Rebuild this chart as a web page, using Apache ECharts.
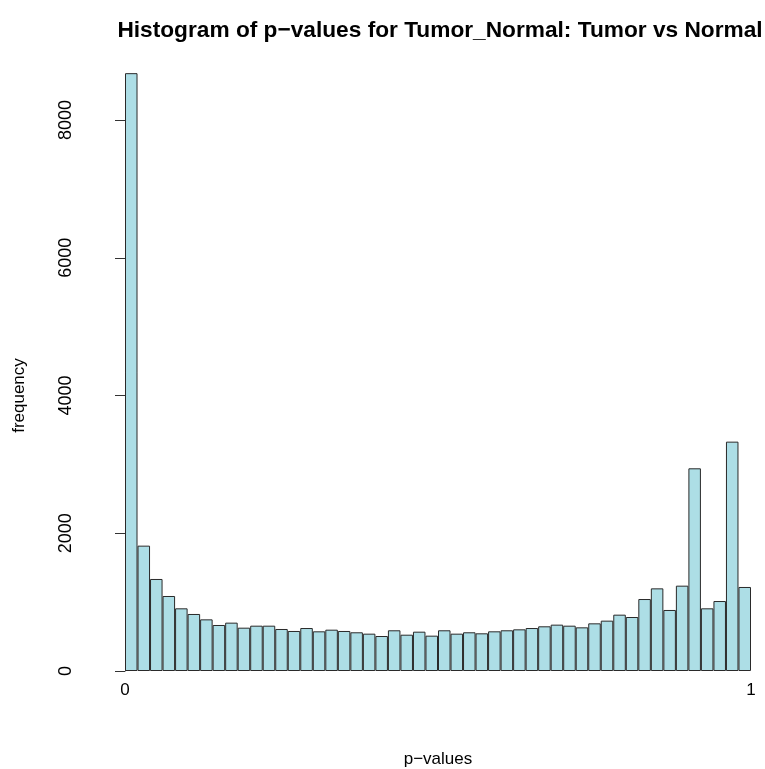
<!DOCTYPE html>
<html>
<head>
<meta charset="utf-8">
<script src="https://cdn.jsdelivr.net/npm/echarts@6/dist/echarts.min.js"></script>
<style>
  html, body { margin: 0; padding: 0; background: #fff; }
  #chart { width: 765px; height: 769px; }
</style>
</head>
<body>
<div id="chart"></div>
<script>
// bins of width 0.02 from 0 to 1
var binStarts = [];
for (var i = 0; i < 50; i++) binStarts.push((i * 0.02).toFixed(2));

var counts = [
  8680, 1820, 1336, 1089, 910, 828, 750, 668, 702, 629,
  658, 658, 610, 581, 624, 576, 600, 581, 562, 542,
  508, 591, 527, 571, 513, 591, 542, 562, 547, 576,
  591, 605, 624, 649, 673, 658, 634, 692, 731, 818,
  784, 1045, 1200, 886, 1239, 2943, 910, 1016, 3330, 1220
];

var yTicks = [0, 2000, 4000, 6000, 8000];
var xTicks = [0, 1];

var font = 'Liberation Sans, Arial, sans-serif';
var chart = echarts.init(document.getElementById('chart'));

chart.setOption({
  animation: false,
  title: {
    text: 'Histogram of p\u2212values for Tumor_Normal: Tumor vs Normal',
    left: 435,
    top: 14,
    textAlign: 'center',
    textStyle: { fontFamily: font, fontWeight: 'bold', fontSize: 22.7, color: '#000' }
  },
  grid: { left: 125, right: 14, top: 120, bottom: 98, outerBoundsMode: 'none' },
  xAxis: [{
    type: 'category',
    data: binStarts,
    boundaryGap: true,
    show: false
  }, {
    type: 'value',
    min: xTicks[0],
    max: xTicks[xTicks.length - 1],
    interval: 1,
    position: 'bottom',
    name: 'p\u2212values',
    nameLocation: 'middle',
    nameGap: 80,
    nameTextStyle: { fontFamily: font, fontSize: 17, color: '#000' },
    axisLine: { show: false },
    axisTick: { show: false },
    splitLine: { show: false },
    axisLabel: { fontFamily: font, fontSize: 17, color: '#000', margin: 11 }
  }],
  yAxis: {
    type: 'value',
    min: yTicks[0],
    max: yTicks[yTicks.length - 1],
    interval: 2000,
    offset: 25,
    name: 'frequency',
    nameLocation: 'middle',
    nameGap: 72,
    nameTextStyle: { fontFamily: font, fontSize: 17, color: '#000' },
    axisLine: { show: true, lineStyle: { color: '#333', width: 1 } },
    axisTick: { show: true, length: 10, lineStyle: { color: '#333' } },
    splitLine: { show: false },
    axisLabel: {
      fontFamily: font, fontSize: 18, color: '#000', rotate: 90, margin: 25,
      formatter: function (v) { return String(v); }
    }
  },
  series: [{
    type: 'bar',
    xAxisIndex: 0,
    data: counts,
    barCategoryGap: 0,
    clip: false,
    itemStyle: { color: '#ADDEE6', borderColor: '#2a2a2a', borderWidth: 1 }
  }]
});
</script>
</body>
</html>
